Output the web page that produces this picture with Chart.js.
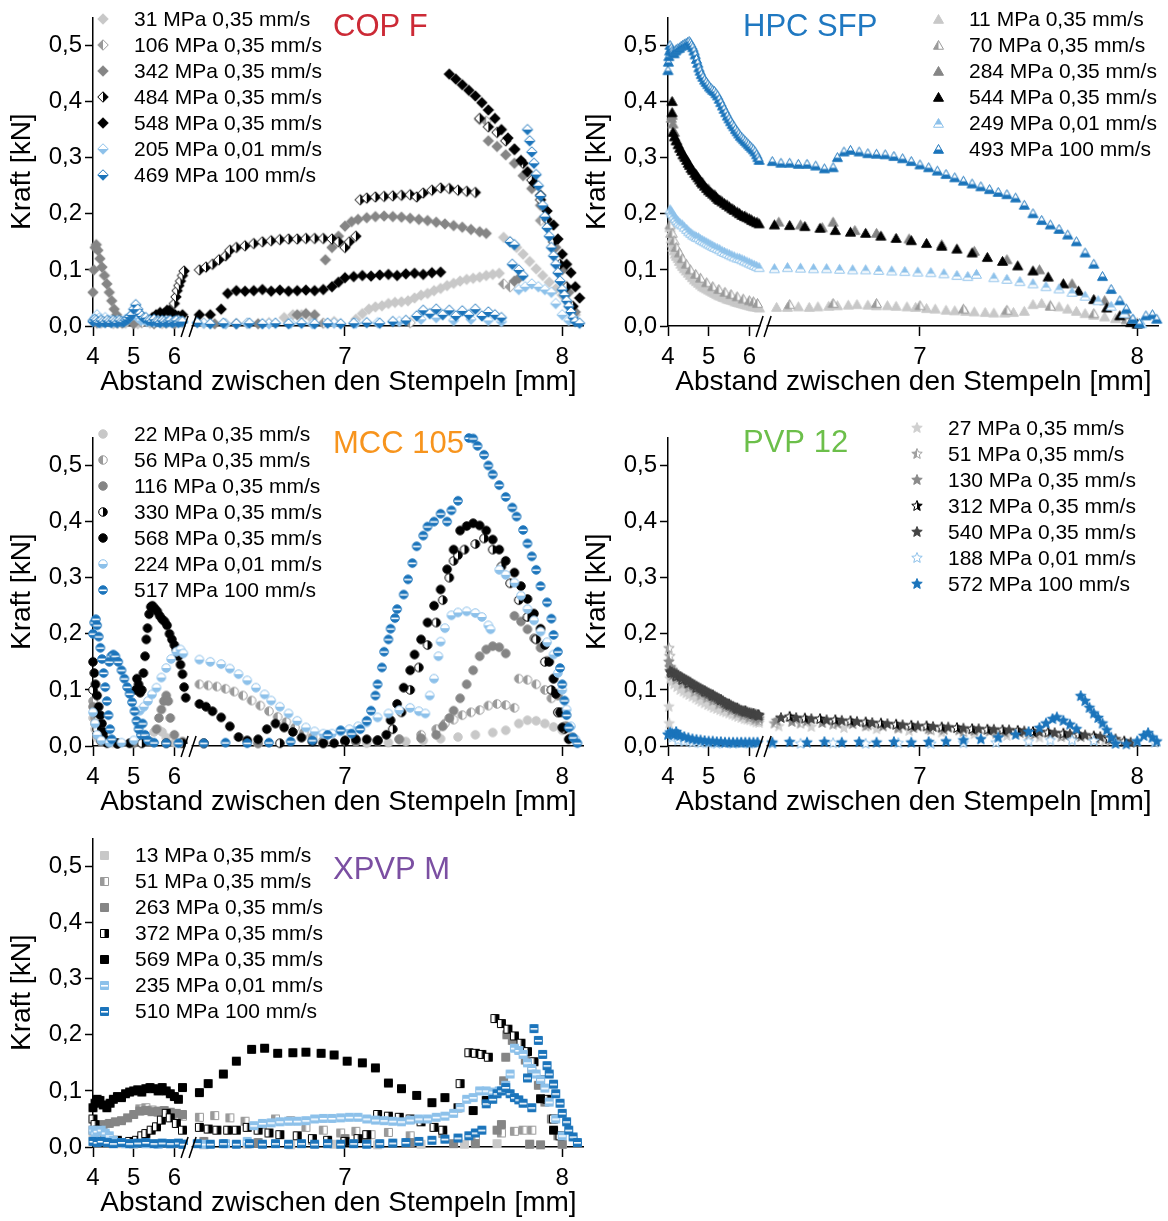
<!DOCTYPE html>
<html>
<head>
<meta charset="utf-8">
<script src="https://cdn.jsdelivr.net/npm/chart.js@4.4.1/dist/chart.umd.min.js"></script>
<style>
  body { margin: 0; background: #fff; }
  #wrap { position: relative; width: 1168px; height: 1221px; background: #fff; }
  canvas { position: absolute; }
</style>
</head>
<body>
<div id="wrap">
  <canvas id="copF" width="590" height="400" style="left:0;top:0"></canvas>
  <canvas id="hpc" width="590" height="400" style="left:575px;top:0"></canvas>
  <canvas id="mcc" width="590" height="400" style="left:0;top:420px"></canvas>
  <canvas id="pvp" width="590" height="400" style="left:575px;top:420px"></canvas>
  <canvas id="xpvp" width="590" height="400" style="left:0;top:821px"></canvas>
</div>
<script>
const FONT = "'Liberation Sans', Arial, sans-serif";

// axis setup: broken x axis (4..6.35 | 6.28..8.1)
const yTicks = [0, 0.1, 0.2, 0.3, 0.4, 0.5];
const xTicksLeft = [4, 5, 6];
const xTicksRight = [7, 8];
const xLeft = [4, 6.35];
const xRight = [6.28, 8.1];
const xSplit = 6.3;
const xTitle = 'Abstand zwischen den Stempeln [mm]';
const yTitle = 'Kraft [kN]';

// ---------- COP F ----------
const copF31 = [[4.0,0.01],[4.2,0.005],[4.5,0.004],[4.8,0.005],[5.1,0.004],[5.4,0.005],[5.7,0.004],[6.0,0.005],[6.2,0.005],
  [6.35,0.005],[6.45,0.004],[6.55,0.005],[6.65,0.006],[6.72,0.015],[6.76,0.02],[6.8,0.02],[6.85,0.012],[6.95,0.008],[7.05,0.012],
  [7.08,0.022],[7.11,0.03],[7.14,0.034],[7.17,0.036],[7.2,0.04],[7.23,0.042],[7.26,0.043],[7.29,0.045],[7.32,0.05],[7.35,0.055],
  [7.38,0.058],[7.41,0.063],[7.44,0.067],[7.47,0.072],[7.5,0.076],[7.53,0.08],[7.56,0.083],[7.59,0.085],[7.62,0.087],[7.65,0.09],
  [7.68,0.092],[7.71,0.094],[7.73,0.158],[7.76,0.15],[7.79,0.14],[7.82,0.128],[7.85,0.115],[7.88,0.102],[7.91,0.09],[7.94,0.078],
  [7.97,0.066],[8.0,0.055],[8.03,0.04],[8.06,0.02]];
const copF106 = [[4.1,0.005],[4.6,0.005],[5.2,0.006],[5.8,0.005],[6.5,0.004],[6.9,0.005],[7.3,0.006],
  [7.62,0.368],[7.65,0.365],[7.73,0.075],[7.76,0.07],[7.9,0.188]];
const copF342 = [[4.0,0.06],[4.02,0.1],[4.05,0.14],[4.08,0.145],[4.12,0.135],[4.17,0.12],[4.22,0.105],[4.28,0.09],[4.34,0.075],
  [4.4,0.06],[4.46,0.045],[4.52,0.03],[4.58,0.02],[4.65,0.01],[4.72,0.005],[5.0,0.004],[5.5,0.004],[6.0,0.004],
  [6.4,0.004],[6.6,0.004],[6.78,0.02],[6.82,0.022],[6.86,0.02],[6.91,0.118],[6.94,0.14],[6.97,0.16],[7.0,0.178],[7.03,0.186],
  [7.06,0.19],[7.1,0.193],[7.14,0.195],[7.18,0.196],[7.22,0.195],[7.26,0.194],[7.3,0.192],[7.34,0.19],[7.38,0.188],[7.42,0.185],
  [7.46,0.182],[7.5,0.179],[7.54,0.176],[7.58,0.172],[7.62,0.168],[7.65,0.165],[7.66,0.33],[7.7,0.32],[7.74,0.305],[7.78,0.29],
  [7.82,0.268],[7.86,0.245],[7.9,0.215],[7.94,0.18],[7.97,0.14],[8.0,0.1],[8.03,0.06],[8.06,0.025],[7.78,0.08],[7.8,0.085]];
const copF484 = [[6.0,0.04],[6.04,0.052],[6.07,0.063],[6.11,0.072],[6.15,0.08],[6.2,0.09],[6.24,0.098],
  [6.33,0.1],[6.36,0.105],[6.39,0.11],[6.42,0.118],[6.45,0.125],[6.47,0.135],[6.5,0.14],[6.54,0.143],[6.58,0.147],[6.62,0.15],
  [6.66,0.152],[6.7,0.154],[6.74,0.155],[6.78,0.155],[6.82,0.156],[6.86,0.156],[6.9,0.156],[6.94,0.155],[6.97,0.15],[7.0,0.14],
  [7.02,0.15],[7.05,0.16],[7.07,0.225],[7.1,0.228],[7.14,0.23],[7.18,0.231],[7.22,0.232],[7.26,0.233],[7.3,0.234],[7.33,0.23],
  [7.36,0.237],[7.4,0.242],[7.44,0.246],[7.48,0.245],[7.52,0.242],[7.56,0.24],[7.6,0.238],
  [7.62,0.37],[7.66,0.355],[7.7,0.345],[7.74,0.33],[7.78,0.315],[7.82,0.29],[7.86,0.26],[7.9,0.225],[7.93,0.19],[7.96,0.15],
  [7.99,0.11],[8.02,0.07],[8.05,0.035]];
const copF548 = [[5.46,0.015],[5.55,0.02],[5.65,0.024],[5.75,0.022],[5.82,0.028],[5.88,0.028],[5.95,0.022],[6.02,0.02],[6.1,0.018],[6.2,0.02],
  [6.33,0.02],[6.38,0.02],[6.43,0.03],[6.46,0.058],[6.5,0.063],[6.54,0.062],[6.58,0.063],[6.62,0.065],[6.66,0.062],[6.7,0.064],
  [6.74,0.062],[6.78,0.063],[6.82,0.064],[6.86,0.063],[6.9,0.065],[6.94,0.07],[6.97,0.078],[7.0,0.086],[7.04,0.088],[7.08,0.09],
  [7.12,0.089],[7.16,0.091],[7.2,0.092],[7.24,0.09],[7.28,0.093],[7.32,0.094],[7.36,0.092],[7.4,0.095],[7.44,0.096],
  [7.48,0.449],[7.51,0.44],[7.54,0.43],[7.57,0.42],[7.6,0.41],[7.63,0.398],[7.66,0.385],[7.69,0.37],[7.72,0.35],[7.75,0.335],
  [7.78,0.315],[7.81,0.295],[7.84,0.275],[7.87,0.255],[7.9,0.233],[7.93,0.205],[7.96,0.18],[7.98,0.155],[8.0,0.128],[8.02,0.11],
  [8.04,0.095],[8.06,0.07],[8.08,0.05]];
const copF205 = [[4.0,0.01],[4.05,0.015],[4.1,0.02],[4.15,0.014],[4.2,0.012],[4.25,0.008],[4.3,0.015],[4.38,0.01],[4.45,0.01],[4.52,0.007],
  [4.6,0.01],[4.7,0.008],[4.8,0.012],[4.9,0.015],[5.0,0.02],[5.1,0.015],[5.18,0.01],[5.25,0.012],[5.32,0.008],[5.4,0.01],[5.5,0.007],
  [5.6,0.01],[5.7,0.008],[5.8,0.01],[5.9,0.007],[6.0,0.008],[6.1,0.01],[6.2,0.008],
  [6.35,0.005],[6.45,0.004],[6.55,0.005],[6.65,0.004],[6.75,0.005],[6.85,0.004],[6.95,0.005],[7.05,0.005],[7.15,0.006],[7.25,0.008],
  [7.35,0.012],[7.42,0.015],[7.5,0.01],[7.58,0.012],[7.66,0.01],[7.72,0.008],[7.8,0.065],[7.83,0.07],[7.86,0.075],[7.89,0.07],
  [7.92,0.065],[7.95,0.06],[7.97,0.04],[8.0,0.02],[8.03,0.01]];
const copF469 = [[4.0,0.008],[4.04,0.012],[4.08,0.01],[4.12,0.007],[4.16,0.006],[4.2,0.01],[4.25,0.008],[4.3,0.006],[4.35,0.01],[4.4,0.008],
  [4.45,0.006],[4.5,0.01],[4.55,0.008],[4.6,0.006],[4.65,0.01],[4.7,0.008],[4.75,0.007],[4.8,0.01],
  [4.85,0.012],[4.9,0.016],[4.95,0.02],[5.0,0.03],[5.05,0.038],[5.1,0.03],[5.15,0.022],[5.2,0.018],[5.25,0.014],[5.3,0.015],[5.35,0.01],
  [5.4,0.01],[5.45,0.008],[5.5,0.012],[5.55,0.008],[5.6,0.008],[5.65,0.006],[5.7,0.01],[5.75,0.008],[5.8,0.006],[5.85,0.008],
  [5.9,0.01],[5.95,0.006],[6.0,0.008],[6.05,0.01],[6.1,0.006],[6.15,0.008],[6.2,0.008],
  [6.32,0.006],[6.38,0.004],[6.44,0.005],[6.5,0.004],[6.56,0.005],[6.62,0.004],[6.68,0.005],[6.74,0.004],[6.8,0.005],[6.86,0.004],
  [6.92,0.005],[6.98,0.004],[7.04,0.005],[7.1,0.006],[7.16,0.005],[7.22,0.008],[7.28,0.01],[7.33,0.018],[7.36,0.028],[7.39,0.022],
  [7.42,0.03],[7.45,0.02],[7.48,0.028],[7.51,0.018],[7.54,0.027],[7.57,0.02],[7.6,0.03],[7.63,0.018],[7.66,0.025],[7.69,0.02],
  [7.72,0.015],[7.76,0.15],[7.78,0.145],[7.77,0.11],[7.8,0.1],[7.82,0.09],[7.84,0.35],[7.85,0.33],[7.86,0.31],[7.87,0.29],
  [7.88,0.27],[7.89,0.25],[7.9,0.232],[7.91,0.215],[7.92,0.195],[7.93,0.175],[7.94,0.16],[7.95,0.14],[7.96,0.125],[7.97,0.11],
  [7.98,0.095],[7.99,0.08],[8.0,0.065],[8.01,0.055],[8.02,0.045],[8.03,0.035],[8.04,0.025],[8.05,0.015],[8.06,0.008],[8.08,0.005]];

// ---------- HPC SFP ----------
const hpc11 = [[4.05,0.175],[4.06,0.165],[4.08,0.155],[4.1,0.148],[4.12,0.14],[4.15,0.134],[4.18,0.128],[4.21,0.124],[4.25,0.12],
  [4.28,0.115],[4.32,0.11],[4.36,0.106],[4.4,0.102],[4.45,0.098],[4.5,0.094],[4.55,0.09],[4.6,0.086],[4.65,0.082],
  [4.7,0.079],[4.75,0.076],[4.8,0.073],[4.85,0.07],[4.9,0.068],[4.95,0.066],[5.0,0.064],[5.05,0.062],[5.1,0.06],[5.15,0.058],
  [5.2,0.056],[5.25,0.054],[5.3,0.053],[5.35,0.051],[5.4,0.05],[5.45,0.048],[5.5,0.047],[5.55,0.046],[5.6,0.045],[5.65,0.043],
  [5.7,0.042],[5.75,0.041],[5.8,0.04],[5.85,0.039],[5.9,0.038],[5.95,0.037],[6.0,0.036],[6.05,0.035],[6.1,0.034],[6.15,0.034],
  [6.2,0.033],[6.25,0.032],
  [6.34,0.033],[6.39,0.033],[6.44,0.034],[6.49,0.033],[6.53,0.034],[6.58,0.035],[6.62,0.036],[6.67,0.037],[6.71,0.038],[6.76,0.037],
  [6.8,0.036],[6.85,0.036],[6.89,0.035],[6.94,0.034],[6.98,0.033],[7.03,0.031],[7.07,0.03],[7.12,0.028],[7.16,0.027],[7.21,0.026],
  [7.25,0.025],[7.3,0.024],[7.34,0.023],[7.39,0.023],[7.43,0.024],[7.48,0.026],[7.52,0.038],[7.56,0.04],[7.6,0.037],[7.64,0.034],
  [7.68,0.03],[7.72,0.026],[7.76,0.022],[7.8,0.019],[7.85,0.016],[7.9,0.013],[7.95,0.01],[8.0,0.006]];
const hpc70 = [[4.05,0.18],[4.1,0.165],[4.15,0.152],[4.2,0.14],[4.28,0.13],[4.35,0.12],[4.45,0.11],[4.55,0.1],[4.68,0.092],[4.8,0.085],
  [4.95,0.077],[5.1,0.07],[5.25,0.065],[5.4,0.06],[5.55,0.056],[5.7,0.052],[5.85,0.048],[6.0,0.045],[6.1,0.043],[6.2,0.04],
  [6.4,0.038],[6.6,0.04],[6.8,0.04],[7.0,0.036],[7.2,0.03],[7.4,0.028],[7.6,0.035],[7.8,0.022],[7.95,0.012]];
const hpc284 = [[4.08,0.37],[4.1,0.375],[4.12,0.36],[4.16,0.345],[4.22,0.33],[4.3,0.316],[4.4,0.302],[4.5,0.29],[4.6,0.279],
  [4.7,0.27],[4.85,0.256],[5.0,0.244],[5.15,0.234],[5.3,0.224],[5.45,0.216],[5.6,0.208],[5.75,0.201],[5.9,0.196],[6.05,0.19],[6.2,0.185],
  [6.35,0.185],[6.45,0.18],[6.55,0.175],[6.6,0.185],[6.7,0.17],[6.8,0.165],[6.95,0.155],[7.1,0.145],[7.25,0.133],[7.4,0.118],
  [7.55,0.1],[7.7,0.075],[7.85,0.045],[7.95,0.02]];
const hpc544 = [[4.1,0.4],[4.1,0.38],[4.12,0.345],[4.16,0.337],[4.2,0.33],[4.25,0.323],[4.29,0.317],[4.33,0.311],[4.37,0.305],[4.42,0.3],
  [4.46,0.295],[4.5,0.29],[4.53,0.286],[4.57,0.281],[4.61,0.277],[4.66,0.272],[4.7,0.268],[4.74,0.264],[4.78,0.26],[4.82,0.256],
  [4.85,0.253],[4.9,0.249],[4.95,0.245],[5.0,0.241],[5.05,0.238],[5.1,0.235],[5.15,0.232],[5.19,0.229],[5.23,0.226],[5.27,0.224],
  [5.33,0.221],[5.39,0.218],[5.45,0.215],[5.51,0.212],[5.57,0.209],[5.63,0.206],[5.7,0.203],[5.76,0.2],[5.82,0.197],[5.88,0.195],
  [5.94,0.193],[6.0,0.191],[6.06,0.188],[6.12,0.186],[6.18,0.184],[6.24,0.182],
  [6.33,0.18],[6.4,0.179],[6.47,0.177],[6.54,0.174],[6.61,0.17],[6.68,0.167],[6.75,0.165],[6.82,0.16],[6.89,0.156],[6.96,0.152],
  [7.03,0.147],[7.1,0.142],[7.17,0.137],[7.24,0.13],[7.31,0.122],[7.38,0.115],[7.45,0.107],[7.52,0.098],[7.59,0.087],[7.66,0.075],
  [7.73,0.062],[7.8,0.047],[7.86,0.032],[7.92,0.018],[7.97,0.006],[8.0,0.003]];
const hpc249 = [[4.05,0.207],[4.08,0.203],[4.1,0.2],[4.14,0.196],[4.18,0.192],[4.22,0.188],[4.26,0.185],[4.3,0.182],[4.35,0.18],
  [4.4,0.176],[4.46,0.172],[4.51,0.168],[4.56,0.165],[4.61,0.162],[4.66,0.16],[4.7,0.158],[4.75,0.157],[4.8,0.154],
  [4.85,0.152],[4.9,0.15],[4.95,0.148],[5.0,0.146],[5.05,0.144],[5.1,0.142],[5.15,0.14],[5.21,0.138],[5.27,0.136],[5.33,0.133],
  [5.39,0.131],[5.45,0.129],[5.51,0.127],[5.57,0.125],[5.63,0.123],[5.7,0.121],[5.76,0.12],[5.82,0.118],[5.88,0.116],[5.94,0.114],
  [6.0,0.112],[6.06,0.11],[6.12,0.108],[6.18,0.106],[6.24,0.104],
  [6.33,0.102],[6.39,0.104],[6.45,0.103],[6.51,0.102],[6.57,0.102],[6.63,0.101],[6.69,0.1],[6.75,0.1],[6.81,0.099],[6.87,0.098],
  [6.93,0.097],[6.99,0.096],[7.05,0.095],[7.11,0.093],[7.17,0.09],[7.22,0.088],[7.26,0.092],[7.34,0.086],[7.4,0.083],[7.46,0.079],
  [7.52,0.075],[7.58,0.07],[7.64,0.066],[7.7,0.06],[7.76,0.053],[7.82,0.045],[7.88,0.035],[7.94,0.022],[7.98,0.012],[8.02,0.004]];
const hpc493 = [[4.0,0.455],[4.01,0.47],[4.02,0.48],[4.04,0.49],[4.05,0.5],[4.08,0.495],[4.1,0.49],[4.12,0.487],[4.15,0.485],[4.18,0.49],
  [4.2,0.492],[4.24,0.494],[4.28,0.495],[4.32,0.498],[4.36,0.5],[4.4,0.502],[4.44,0.503],[4.48,0.505],
  [4.52,0.507],[4.55,0.504],[4.58,0.5],[4.61,0.496],[4.64,0.49],[4.67,0.483],[4.7,0.475],[4.73,0.468],[4.76,0.46],[4.79,0.454],
  [4.82,0.448],[4.86,0.443],[4.9,0.438],[4.94,0.434],[4.98,0.43],[5.02,0.426],[5.06,0.423],[5.1,0.42],[5.14,0.418],[5.18,0.414],
  [5.22,0.41],[5.26,0.404],[5.3,0.398],[5.34,0.392],[5.38,0.386],[5.42,0.38],[5.46,0.374],[5.5,0.369],[5.54,0.364],[5.58,0.359],
  [5.62,0.355],[5.66,0.35],[5.7,0.346],[5.74,0.342],[5.78,0.338],[5.82,0.335],[5.86,0.332],[5.9,0.329],[5.94,0.326],[5.98,0.323],
  [6.02,0.32],[6.06,0.317],[6.1,0.314],[6.14,0.31],[6.18,0.305],[6.21,0.3],[6.24,0.295],
  [6.32,0.293],[6.36,0.29],[6.4,0.29],[6.44,0.288],[6.48,0.288],[6.52,0.285],[6.56,0.28],[6.6,0.282],[6.62,0.3],[6.65,0.31],
  [6.68,0.313],[6.72,0.31],[6.76,0.307],[6.8,0.306],[6.84,0.305],[6.88,0.302],[6.92,0.298],[6.96,0.293],[7.0,0.287],[7.04,0.282],
  [7.08,0.276],[7.12,0.27],[7.16,0.264],[7.2,0.258],[7.24,0.253],[7.28,0.248],[7.32,0.243],[7.36,0.238],[7.4,0.234],[7.44,0.228],
  [7.48,0.215],[7.52,0.2],[7.56,0.188],[7.6,0.18],[7.64,0.172],[7.68,0.162],[7.72,0.15],[7.76,0.13],[7.8,0.11],[7.84,0.088],
  [7.88,0.065],[7.92,0.045],[7.95,0.03],[7.98,0.012],[8.01,0.004],[8.04,0.018],[8.07,0.02],[8.09,0.012]];

// ---------- MCC 105 ----------
const mcc22 = [[4.0,0.05],[4.05,0.03],[4.1,0.015],[4.2,0.008],[4.5,0.005],[4.9,0.005],[5.3,0.01],[5.5,0.025],[5.6,0.03],[5.7,0.025],
  [5.8,0.015],[6.0,0.006],[6.2,0.005],
  [6.35,0.004],[6.6,0.004],[6.9,0.004],[7.1,0.005],[7.2,0.006],[7.28,0.008],[7.36,0.01],[7.44,0.013],[7.52,0.016],[7.6,0.02],
  [7.68,0.024],[7.74,0.028],[7.8,0.04],[7.84,0.046],[7.88,0.045],[7.92,0.04],[7.96,0.034],[8.0,0.028],[8.04,0.015]];
const mcc56 = [[4.0,0.08],[4.05,0.05],[4.1,0.03],[4.2,0.01],[4.6,0.005],[5.2,0.005],[5.8,0.006],[6.2,0.006],
  [6.33,0.11],[6.37,0.108],[6.41,0.106],[6.45,0.102],[6.49,0.097],[6.53,0.09],[6.57,0.081],[6.61,0.072],[6.65,0.062],[6.69,0.052],
  [6.73,0.043],[6.77,0.033],[6.81,0.024],[6.85,0.016],[6.9,0.01],[7.05,0.008],[7.15,0.008],[7.25,0.012],[7.35,0.02],[7.42,0.03],
  [7.46,0.04],[7.5,0.047],[7.54,0.055],[7.58,0.06],[7.62,0.064],[7.66,0.072],[7.7,0.075],[7.74,0.073],[7.78,0.068],[7.8,0.12],
  [7.84,0.118],[7.88,0.11],[7.92,0.1],[7.95,0.085],[7.98,0.06],[8.01,0.035],[8.04,0.015]];
const mcc116 = [[4.0,0.07],[4.05,0.04],[4.1,0.02],[4.2,0.008],[4.6,0.005],[5.0,0.005],[5.4,0.008],[5.56,0.03],[5.62,0.05],
  [5.68,0.065],[5.74,0.08],[5.8,0.09],[5.85,0.08],[5.9,0.05],[6.0,0.02],[6.2,0.008],
  [6.35,0.005],[6.6,0.005],[6.9,0.005],[7.05,0.008],[7.15,0.01],[7.25,0.012],[7.35,0.014],[7.42,0.02],[7.45,0.035],[7.48,0.05],
  [7.5,0.063],[7.53,0.085],[7.56,0.11],[7.59,0.135],[7.62,0.16],[7.65,0.172],[7.68,0.178],[7.71,0.176],[7.74,0.165],[7.78,0.232],
  [7.81,0.222],[7.84,0.208],[7.87,0.192],[7.9,0.175],[7.93,0.152],[7.96,0.12],[7.98,0.09],[8.0,0.06],[8.02,0.035],[8.05,0.015]];
const mcc330 = [[4.0,0.1],[4.05,0.06],[4.1,0.03],[4.2,0.01],[4.6,0.005],[5.2,0.005],[5.8,0.005],[6.2,0.005],
  [6.35,0.005],[6.7,0.005],[7.0,0.008],[7.15,0.01],[7.22,0.03],[7.26,0.06],[7.3,0.1],[7.34,0.14],[7.38,0.18],[7.42,0.22],[7.45,0.26],
  [7.48,0.3],[7.5,0.33],[7.52,0.34],[7.55,0.35],[7.6,0.36],[7.64,0.37],[7.68,0.35],[7.72,0.32],[7.76,0.29],[7.8,0.26],[7.84,0.23],
  [7.88,0.19],[7.92,0.15],[7.95,0.1],[7.98,0.06],[8.01,0.03]];
const mcc568 = [[4.0,0.15],[4.03,0.13],[4.06,0.11],[4.1,0.09],[4.14,0.07],[4.18,0.055],[4.22,0.04],[4.26,0.025],[4.3,0.012],[4.35,0.005],
  [4.6,0.004],[4.9,0.005],[5.05,0.1],[5.08,0.12],[5.12,0.11],[5.16,0.095],[5.2,0.1],[5.24,0.13],[5.28,0.16],[5.31,0.19],[5.34,0.21],
  [5.38,0.235],[5.42,0.248],[5.46,0.25],[5.52,0.245],[5.58,0.24],[5.64,0.232],[5.7,0.226],[5.76,0.222],[5.82,0.215],[5.88,0.2],
  [5.94,0.19],[6.0,0.18],[6.05,0.172],[6.1,0.16],[6.15,0.145],[6.2,0.128],[6.24,0.105],[6.28,0.086],
  [6.33,0.075],[6.36,0.07],[6.39,0.062],[6.43,0.051],[6.47,0.035],[6.51,0.016],[6.55,0.01],[6.6,0.012],[6.64,0.03],[6.68,0.04],
  [6.72,0.033],[6.76,0.025],[6.8,0.015],[6.85,0.008],[6.9,0.005],[6.95,0.005],[7.0,0.01],[7.05,0.012],[7.1,0.012],[7.15,0.01],
  [7.19,0.02],[7.21,0.046],[7.24,0.075],[7.27,0.104],[7.3,0.135],[7.32,0.163],[7.35,0.19],[7.38,0.22],[7.41,0.25],[7.44,0.279],
  [7.47,0.315],[7.5,0.35],[7.53,0.384],[7.56,0.392],[7.59,0.397],[7.62,0.393],[7.65,0.384],[7.68,0.368],[7.71,0.35],[7.74,0.33],
  [7.78,0.309],[7.81,0.285],[7.84,0.262],[7.87,0.236],[7.9,0.209],[7.92,0.18],[7.94,0.15],[7.96,0.12],[7.97,0.093],[7.99,0.06],
  [8.0,0.033],[8.03,0.012]];
const mcc224 = [[4.0,0.06],[4.05,0.04],[4.1,0.02],[4.2,0.01],[4.4,0.006],[4.7,0.006],[5.0,0.01],[5.1,0.04],[5.15,0.063],[5.25,0.07],
  [5.35,0.08],[5.45,0.092],[5.56,0.104],[5.68,0.122],[5.8,0.139],[5.92,0.155],[6.05,0.168],[6.15,0.172],[6.22,0.165],
  [6.33,0.154],[6.38,0.15],[6.43,0.146],[6.47,0.138],[6.51,0.128],[6.55,0.117],[6.59,0.104],[6.63,0.092],[6.66,0.081],[6.7,0.07],
  [6.74,0.058],[6.78,0.045],[6.82,0.033],[6.86,0.026],[6.9,0.022],[6.94,0.022],[6.98,0.026],[7.02,0.03],[7.06,0.035],[7.1,0.042],
  [7.15,0.051],[7.2,0.058],[7.25,0.064],[7.3,0.068],[7.34,0.062],[7.37,0.058],[7.39,0.09],[7.41,0.12],[7.43,0.16],[7.44,0.186],
  [7.46,0.21],[7.49,0.233],[7.52,0.238],[7.56,0.24],[7.6,0.237],[7.63,0.23],[7.66,0.215],[7.67,0.208],[7.71,0.314],[7.74,0.305],
  [7.78,0.291],[7.81,0.268],[7.84,0.244],[7.87,0.224],[7.9,0.204],[7.93,0.185],[7.96,0.163],[7.98,0.13],[8.0,0.1],[8.02,0.065],
  [8.04,0.035],[8.06,0.012]];
const mcc517 = [[4.0,0.2],[4.03,0.22],[4.07,0.226],[4.1,0.215],[4.14,0.195],[4.18,0.175],[4.22,0.155],[4.26,0.13],[4.3,0.105],
  [4.34,0.08],[4.38,0.055],[4.42,0.03],[4.46,0.012],[4.4,0.15],[4.45,0.16],[4.5,0.163],[4.55,0.16],[4.62,0.15],[4.7,0.135],
  [4.77,0.12],[4.84,0.105],[4.9,0.093],[4.96,0.078],[5.02,0.062],[5.07,0.045],[5.12,0.03],[5.18,0.02],[5.22,0.04],[5.28,0.02],
  [5.35,0.01],[5.5,0.006],[5.8,0.005],[6.1,0.005],
  [6.35,0.005],[6.45,0.006],[6.55,0.005],[6.65,0.006],[6.75,0.008],[6.85,0.01],[6.92,0.02],[6.98,0.028],[7.03,0.022],[7.07,0.03],
  [7.1,0.045],[7.12,0.063],[7.14,0.09],[7.15,0.11],[7.17,0.14],[7.18,0.168],[7.2,0.19],[7.21,0.209],[7.23,0.228],[7.24,0.244],
  [7.27,0.27],[7.29,0.297],[7.31,0.326],[7.33,0.356],[7.36,0.375],[7.38,0.391],[7.41,0.4],[7.44,0.414],[7.47,0.4],[7.49,0.42],
  [7.52,0.437],[7.57,0.549],[7.59,0.548],[7.61,0.535],[7.64,0.519],[7.66,0.5],[7.68,0.484],[7.71,0.465],[7.74,0.444],[7.77,0.425],
  [7.79,0.409],[7.82,0.385],[7.84,0.361],[7.86,0.338],[7.88,0.314],[7.9,0.285],[7.93,0.256],[7.95,0.227],[7.96,0.198],[7.98,0.168],
  [7.99,0.139],[8.0,0.11],[8.01,0.081],[8.02,0.055],[8.03,0.033],[8.05,0.015],[8.07,0.005]];

// ---------- PVP 12 ----------
const pvp27 = [[4.02,0.07],[4.03,0.04],[4.05,0.12],[4.1,0.115],[4.15,0.11],[4.22,0.105],[4.3,0.1],[4.38,0.097],[4.45,0.094],[4.52,0.091],
  [4.6,0.088],[4.68,0.085],[4.75,0.082],[4.82,0.079],[4.9,0.076],[4.98,0.073],[5.05,0.071],[5.12,0.068],[5.2,0.066],[5.28,0.064],
  [5.35,0.062],[5.42,0.06],[5.5,0.058],[5.58,0.056],[5.65,0.054],[5.72,0.052],[5.8,0.05],[5.88,0.048],[5.95,0.047],[6.02,0.046],
  [6.1,0.044],[6.17,0.042],[6.24,0.041],
  [6.35,0.035],[6.5,0.034],[6.65,0.032],[6.8,0.03],[6.95,0.027],[7.1,0.024],[7.25,0.021],[7.4,0.018],[7.55,0.015],[7.7,0.012],[7.85,0.009]];
const pvp51 = [[4.02,0.174],[4.04,0.16],[4.05,0.14],[4.1,0.125],[4.2,0.118],[4.35,0.11],[4.5,0.103],[4.65,0.096],[4.8,0.09],
  [4.95,0.085],[5.1,0.08],[5.25,0.074],[5.4,0.068],[5.55,0.063],[5.7,0.058],[5.85,0.054],[6.0,0.05],[6.15,0.047],[6.24,0.045],
  [6.33,0.04],[6.45,0.04],[6.6,0.038],[6.75,0.035],[6.9,0.031],[7.05,0.028],[7.2,0.025],[7.35,0.022],[7.5,0.019],[7.65,0.016],[7.8,0.012]];
const pvp130 = [[4.02,0.15],[4.06,0.14],[4.1,0.136],[4.15,0.132],[4.22,0.128],[4.3,0.123],[4.38,0.119],[4.45,0.115],[4.52,0.111],
  [4.6,0.107],[4.68,0.103],[4.75,0.1],[4.82,0.097],[4.9,0.094],[4.98,0.091],[5.05,0.088],[5.12,0.085],[5.2,0.082],[5.28,0.079],
  [5.35,0.076],[5.42,0.073],[5.5,0.07],[5.58,0.067],[5.65,0.065],[5.72,0.062],[5.8,0.06],[5.88,0.058],[5.95,0.056],[6.02,0.054],
  [6.1,0.052],[6.17,0.05],[6.24,0.049],
  [6.34,0.045],[6.41,0.043],[6.48,0.044],[6.55,0.041],[6.62,0.04],[6.69,0.039],[6.76,0.037],[6.83,0.035],[6.9,0.033],[6.97,0.032],
  [7.04,0.03],[7.11,0.029],[7.18,0.028],[7.25,0.027],[7.32,0.026],[7.39,0.024],[7.46,0.023],[7.53,0.021],[7.6,0.02],[7.67,0.018],
  [7.74,0.016],[7.81,0.013],[7.88,0.01]];
const pvp312 = [[4.08,0.13],[4.2,0.124],[4.35,0.118],[4.5,0.112],[4.7,0.104],[4.9,0.097],[5.1,0.09],[5.3,0.082],[5.5,0.074],
  [5.7,0.067],[5.9,0.062],[6.1,0.057],[6.22,0.055],
  [6.4,0.052],[6.47,0.049],[6.54,0.048],[6.61,0.046],[6.68,0.044],[6.75,0.042],[6.82,0.04],[6.89,0.038],[6.96,0.036],[7.03,0.035],
  [7.1,0.033],[7.17,0.032],[7.24,0.03],[7.31,0.029],[7.38,0.028],[7.45,0.027],[7.52,0.025],[7.59,0.024],[7.66,0.022],[7.73,0.02],
  [7.8,0.017],[7.87,0.013],[7.94,0.008]];
const pvp540 = [[4.05,0.133],[4.1,0.131],[4.15,0.129],[4.2,0.127],[4.25,0.125],[4.3,0.123],[4.35,0.121],[4.4,0.119],[4.45,0.117],
  [4.5,0.115],[4.55,0.113],[4.6,0.11],[4.65,0.108],[4.7,0.106],[4.75,0.104],[4.8,0.102],[4.85,0.1],[4.9,0.098],
  [4.95,0.096],[5.0,0.094],[5.05,0.092],[5.1,0.09],[5.15,0.088],[5.2,0.086],[5.25,0.084],[5.3,0.082],[5.35,0.08],[5.4,0.077],
  [5.45,0.075],[5.5,0.073],[5.55,0.072],[5.6,0.07],[5.65,0.068],[5.7,0.066],[5.75,0.065],[5.8,0.063],[5.85,0.062],[5.9,0.061],
  [5.95,0.06],[6.0,0.059],[6.05,0.058],[6.1,0.057],[6.15,0.056],[6.2,0.055],[6.24,0.054],
  [6.36,0.05],[6.43,0.05],[6.5,0.048],[6.57,0.046],[6.64,0.045],[6.71,0.043],[6.78,0.041],[6.85,0.039],[6.92,0.037],[6.99,0.035],
  [7.06,0.034],[7.13,0.033],[7.2,0.031],[7.27,0.03],[7.34,0.029],[7.41,0.028],[7.48,0.026],[7.55,0.025],[7.62,0.023],[7.69,0.021],
  [7.76,0.019],[7.83,0.016],[7.9,0.012],[7.97,0.006]];
const pvp188 = [[4.0,0.02],[4.1,0.015],[4.25,0.01],[4.4,0.008],[4.6,0.006],[4.8,0.005],[5.0,0.005],[5.2,0.004],[5.4,0.005],[5.6,0.004],
  [5.8,0.005],[6.0,0.004],[6.2,0.005],
  [6.32,0.004],[6.45,0.004],[6.6,0.005],[6.75,0.004],[6.9,0.005],[7.05,0.004],[7.2,0.005],[7.35,0.006],[7.5,0.008],[7.6,0.01],
  [7.7,0.01],[7.8,0.009],[7.9,0.006],[8.0,0.008],[8.08,0.006]];
const pvp572 = [[4.0,0.02],[4.05,0.024],[4.1,0.022],[4.15,0.02],[4.2,0.025],[4.25,0.02],[4.3,0.018],[4.4,0.016],[4.5,0.014],[4.6,0.012],
  [4.7,0.011],[4.8,0.01],[4.9,0.009],[5.0,0.008],[5.1,0.008],[5.2,0.007],[5.3,0.007],[5.4,0.006],[5.5,0.006],[5.6,0.006],[5.7,0.006],
  [5.8,0.006],[5.9,0.006],[6.0,0.006],[6.1,0.006],[6.2,0.006],
  [6.32,0.006],[6.4,0.007],[6.48,0.006],[6.56,0.007],[6.64,0.006],[6.72,0.007],[6.8,0.006],[6.88,0.007],[6.96,0.006],[7.04,0.007],
  [7.12,0.008],[7.2,0.01],[7.28,0.012],[7.36,0.015],[7.44,0.02],[7.5,0.025],[7.55,0.032],[7.58,0.04],[7.61,0.048],[7.63,0.051],
  [7.66,0.045],[7.69,0.038],[7.72,0.03],[7.74,0.089],[7.76,0.08],[7.78,0.068],[7.8,0.058],[7.82,0.05],[7.84,0.04],[7.86,0.028],
  [7.88,0.015],[7.9,0.004],[7.95,0.003],[8.0,0.008],[8.03,0.018],[8.05,0.023],[8.07,0.015],[8.09,0.008]];

// ---------- XPVP M ----------
const xp13 = [[4.0,0.02],[4.1,0.015],[4.2,0.01],[4.4,0.008],[4.7,0.006],[5.0,0.005],[5.3,0.006],[5.6,0.005],[5.9,0.006],[6.2,0.005],
  [6.35,0.004],[6.55,0.005],[6.75,0.004],[6.95,0.005],[7.15,0.004],[7.35,0.005],[7.55,0.005],[7.7,0.006],[7.85,0.005],[8.0,0.005]];
const xp51 = [[5.15,0.068],[5.3,0.07],[5.45,0.066],[5.6,0.062],[5.75,0.06],[5.9,0.058],[6.05,0.057],[6.2,0.055],
  [6.33,0.053],[6.4,0.056],[6.47,0.052],[6.54,0.046],[6.62,0.04],[6.68,0.05],[6.75,0.047],[6.82,0.035],[6.9,0.03],[6.98,0.025],
  [7.05,0.028],[7.12,0.022],[7.2,0.026],[7.3,0.02],[7.45,0.024],[7.6,0.02],[7.72,0.025],[7.78,0.028],[7.82,0.03],[7.86,0.03]];
const xp263 = [[4.0,0.03],[4.1,0.036],[4.25,0.04],[4.4,0.042],[4.55,0.045],[4.7,0.047],[4.85,0.052],[5.0,0.058],[5.15,0.064],
  [5.3,0.065],[5.45,0.063],[5.6,0.064],[5.75,0.065],[5.9,0.062],[6.05,0.06],[6.2,0.058],
  [6.35,0.01],[6.6,0.008],[6.85,0.012],[7.0,0.015],[7.1,0.01],[7.3,0.008],[7.5,0.006],[7.6,0.006],[7.7,0.03],[7.72,0.04],
  [7.73,0.118],[7.74,0.16],[7.745,0.2],[7.77,0.19],[7.8,0.175],[7.83,0.155],[7.86,0.135],[7.89,0.11],[7.92,0.08],[7.95,0.05],
  [7.98,0.02],[8.0,0.005],[7.85,0.005],[7.9,0.004]];
const xp372 = [[4.0,0.05],[4.05,0.04],[4.1,0.03],[4.3,0.02],[4.6,0.012],[4.9,0.01],[5.07,0.012],[5.2,0.02],[5.3,0.024],[5.43,0.03],
  [5.56,0.036],[5.68,0.048],[5.8,0.06],[5.9,0.052],[6.05,0.042],[6.2,0.03],
  [6.33,0.035],[6.37,0.032],[6.41,0.03],[6.46,0.03],[6.5,0.03],[6.55,0.035],[6.6,0.03],[6.65,0.025],[6.7,0.022],[6.78,0.02],
  [6.85,0.015],[6.92,0.012],[7.0,0.01],[7.06,0.015],[7.1,0.022],[7.15,0.058],[7.2,0.055],[7.25,0.053],[7.3,0.05],[7.35,0.045],
  [7.41,0.035],[7.45,0.03],[7.53,0.113],[7.57,0.168],[7.6,0.167],[7.63,0.165],[7.66,0.16],[7.69,0.229],[7.72,0.22],[7.75,0.21],
  [7.78,0.198],[7.81,0.185],[7.84,0.17],[7.87,0.152],[7.9,0.12],[7.93,0.085],[7.96,0.05],[7.99,0.02]];
const xp569 = [[4.0,0.07],[4.05,0.078],[4.1,0.085],[4.17,0.083],[4.25,0.075],[4.34,0.07],[4.42,0.078],[4.5,0.085],[4.6,0.09],
  [4.7,0.088],[4.8,0.095],[4.9,0.098],[5.0,0.1],[5.1,0.102],[5.2,0.098],[5.3,0.104],[5.4,0.106],[5.5,0.104],[5.6,0.1],[5.7,0.106],
  [5.8,0.1],[5.9,0.095],[6.0,0.09],[6.1,0.085],[6.2,0.106],
  [6.33,0.097],[6.37,0.113],[6.44,0.13],[6.5,0.153],[6.57,0.174],[6.63,0.176],[6.69,0.167],[6.76,0.168],[6.82,0.169],[6.89,0.167],
  [6.95,0.164],[7.01,0.153],[7.08,0.15],[7.14,0.141],[7.2,0.114],[7.26,0.104],[7.33,0.092],[7.4,0.079],[7.46,0.088],[7.52,0.07],
  [7.59,0.065],[7.65,0.083],[7.9,0.086],[7.96,0.03]];
const xp235 = [[4.0,0.03],[4.05,0.025],[4.1,0.028],[4.2,0.03],[4.3,0.025],[4.4,0.02],[4.5,0.012],[4.6,0.008],[4.8,0.006],[5.0,0.006],
  [5.3,0.006],[5.6,0.005],[5.9,0.006],[6.2,0.005],
  [6.35,0.005],[6.45,0.006],[6.55,0.01],[6.58,0.038],[6.62,0.042],[6.66,0.043],[6.7,0.045],[6.74,0.046],[6.78,0.046],[6.82,0.047],
  [6.86,0.05],[6.9,0.051],[6.94,0.051],[6.98,0.052],[7.02,0.053],[7.06,0.053],[7.1,0.05],[7.14,0.048],[7.18,0.047],[7.22,0.046],
  [7.26,0.045],[7.3,0.048],[7.34,0.05],[7.38,0.05],[7.42,0.053],[7.46,0.055],[7.5,0.06],[7.53,0.07],[7.56,0.085],[7.59,0.088],
  [7.62,0.1],[7.65,0.1],[7.68,0.098],[7.71,0.1],[7.74,0.11],[7.76,0.13],[7.78,0.176],[7.8,0.172],[7.82,0.165],[7.84,0.15],
  [7.86,0.14],[7.88,0.13],[7.9,0.12],[7.92,0.105],[7.94,0.08],[7.97,0.05],[8.0,0.02]];
const xp510 = [[4.0,0.01],[4.1,0.008],[4.2,0.01],[4.35,0.008],[4.5,0.006],[4.7,0.008],[4.9,0.006],[5.1,0.007],[5.3,0.008],[5.5,0.006],
  [5.7,0.007],[5.9,0.006],[6.1,0.007],[6.22,0.005],
  [6.32,0.006],[6.38,0.005],[6.44,0.006],[6.5,0.005],[6.56,0.006],[6.62,0.005],[6.68,0.006],[6.74,0.005],[6.8,0.006],[6.86,0.005],
  [6.92,0.006],[6.98,0.005],[7.04,0.006],[7.1,0.005],[7.16,0.006],[7.22,0.007],[7.28,0.008],[7.34,0.01],[7.4,0.012],[7.46,0.014],
  [7.52,0.016],[7.57,0.02],[7.6,0.025],[7.63,0.03],[7.65,0.077],[7.68,0.085],[7.7,0.095],[7.72,0.1],[7.74,0.106],[7.76,0.095],
  [7.78,0.088],[7.8,0.084],[7.82,0.078],[7.84,0.123],[7.86,0.07],[7.87,0.211],[7.89,0.19],[7.91,0.165],[7.93,0.145],[7.94,0.13],
  [7.96,0.112],[7.97,0.095],[7.99,0.078],[8.0,0.06],[8.02,0.045],[8.03,0.03],[8.05,0.018],[8.07,0.008]];

// marker images (half filled symbols like in the original)
const shapes = {
  diamond(g, m, r) { g.moveTo(m, m - r); g.lineTo(m + r, m); g.lineTo(m, m + r); g.lineTo(m - r, m); },
  square(g, m, r) { g.rect(m - r, m - r, 2 * r, 2 * r); },
  circle(g, m, r) { g.arc(m, m, r, 0, Math.PI * 2); },
  triangle(g, m, r) { g.moveTo(m, m - r); g.lineTo(m + r, m + r * 0.75); g.lineTo(m - r, m + r * 0.75); },
  star(g, m, r) {
    for (let k = 0; k < 10; k++) {
      const a = -Math.PI / 2 + k * Math.PI / 5, rr = k % 2 ? r * 0.45 : r;
      g.lineTo(m + rr * Math.cos(a), m + rr * Math.sin(a));
    }
  }
};

function marker(shape, size, color, mode) {
  const c = document.createElement('canvas');
  c.width = c.height = Math.ceil(size + 3);
  const g = c.getContext('2d'), m = c.width / 2, r = size / 2;
  const path = () => { g.beginPath(); shapes[shape](g, m, r); g.closePath(); };
  path();
  g.fillStyle = mode === 'full' ? color : '#fff';
  g.fill();
  if (mode !== 'full' && mode !== 'open') {
    g.save(); path(); g.clip();
    g.fillStyle = color;
    if (mode === 'left') g.fillRect(0, 0, m, c.height);
    if (mode === 'right') g.fillRect(m, 0, m, c.height);
    if (mode === 'bottom') g.fillRect(0, m, c.width, m);
    if (mode === 'top') g.fillRect(0, 0, c.width, m + 1);
    if (mode === 'stripe') {
      g.fillRect(0, 0, c.width, c.height);
      g.fillStyle = '#fff';
      g.fillRect(0, m - 0.5, c.width, 1.6);
    }
    g.restore();
  }
  path();
  g.strokeStyle = color;
  g.lineWidth = 1;
  g.stroke();
  return c;
}

const LG = '#c8c8c8', G1 = '#9a9a9a', G2 = '#858585', BK = '#000000', LB = '#8dc1ea', BL = '#1b74bb';

const panels = [
  { id: 'copF', title: 'COP F', color: '#cc2a36', titleX: 333, titleY: 27, legX: 103, legY: 19, shape: 'diamond', size: 10.5,
    series: [
      ['31 MPa 0,35 mm/s', LG, 'full', copF31],
      ['106 MPa 0,35 mm/s', G1, 'left', copF106],
      ['342 MPa 0,35 mm/s', G2, 'full', copF342],
      ['484 MPa 0,35 mm/s', BK, 'right', copF484],
      ['548 MPa 0,35 mm/s', BK, 'full', copF548],
      ['205 MPa 0,01 mm/s', LB, 'bottom', copF205],
      ['469 MPa 100 mm/s', BL, 'bottom', copF469]
    ] },
  { id: 'hpc', title: 'HPC SFP', color: '#1f78c1', titleX: 168, titleY: 27, legX: 363, legY: 19, shape: 'triangle', size: 10,
    series: [
      ['11 MPa 0,35 mm/s', LG, 'full', hpc11],
      ['70 MPa 0,35 mm/s', G1, 'left', hpc70],
      ['284 MPa 0,35 mm/s', G2, 'full', hpc284],
      ['544 MPa 0,35 mm/s', BK, 'full', hpc544],
      ['249 MPa 0,01 mm/s', LB, 'top', hpc249],
      ['493 MPa 100 mm/s', BL, 'bottom', hpc493]
    ] },
  { id: 'mcc', title: 'MCC 105', color: '#f7941d', titleX: 333, titleY: 24, legX: 103, legY: 14, shape: 'circle', size: 8.5,
    series: [
      ['22 MPa 0,35 mm/s', LG, 'full', mcc22],
      ['56 MPa 0,35 mm/s', G1, 'left', mcc56],
      ['116 MPa 0,35 mm/s', G2, 'full', mcc116],
      ['330 MPa 0,35 mm/s', BK, 'right', mcc330],
      ['568 MPa 0,35 mm/s', BK, 'full', mcc568],
      ['224 MPa 0,01 mm/s', LB, 'bottom', mcc224],
      ['517 MPa 100 mm/s', BL, 'stripe', mcc517]
    ] },
  { id: 'pvp', title: 'PVP 12', color: '#6cbf4a', titleX: 168, titleY: 23, legX: 342, legY: 8, shape: 'star', size: 11,
    series: [
      ['27 MPa 0,35 mm/s', '#d0d0d0', 'full', pvp27],
      ['51 MPa 0,35 mm/s', '#a0a0a0', 'left', pvp51],
      ['130 MPa 0,35 mm/s', '#8a8a8a', 'full', pvp130],
      ['312 MPa 0,35 mm/s', BK, 'right', pvp312],
      ['540 MPa 0,35 mm/s', '#444444', 'full', pvp540],
      ['188 MPa 0,01 mm/s', LB, 'open', pvp188],
      ['572 MPa 100 mm/s', BL, 'full', pvp572]
    ] },
  { id: 'xpvp', title: 'XPVP M', color: '#7b4fa2', titleX: 333, titleY: 49, legX: 104, legY: 34, shape: 'square', size: 8,
    series: [
      ['13 MPa 0,35 mm/s', LG, 'full', xp13],
      ['51 MPa 0,35 mm/s', G1, 'left', xp51],
      ['263 MPa 0,35 mm/s', G2, 'full', xp263],
      ['372 MPa 0,35 mm/s', BK, 'right', xp372],
      ['569 MPa 0,35 mm/s', BK, 'full', xp569],
      ['235 MPa 0,01 mm/s', LB, 'stripe', xp235],
      ['510 MPa 100 mm/s', BL, 'stripe', xp510]
    ] }
];

// titles, legend inside the plot, x axis title and the axis break
const decor = {
  id: 'decor',
  afterDraw(chart, args, o) {
    const { ctx, chartArea: a, scales } = chart;
    ctx.save();
    const xb = (scales.x1.right + scales.x2.left) / 2, yb = a.bottom;
    ctx.fillStyle = '#fff';
    ctx.fillRect(xb - 3, yb - 2, 6, 5);
    ctx.strokeStyle = '#000';
    ctx.lineWidth = 1.5;
    [-4, 4].forEach(d => {
      ctx.beginPath();
      ctx.moveTo(xb + d - 3.5, yb + 11);
      ctx.lineTo(xb + d + 3.5, yb - 10);
      ctx.stroke();
    });

    ctx.textBaseline = 'middle';
    ctx.textAlign = 'left';
    ctx.font = '31px ' + FONT;
    ctx.fillStyle = o.color;
    ctx.fillText(o.title, o.titleX, o.titleY);

    ctx.fillStyle = '#000';
    ctx.font = '28px ' + FONT;
    ctx.textAlign = 'center';
    ctx.fillText(xTitle, (a.left + a.right) / 2, 382);

    ctx.font = '21px ' + FONT;
    ctx.textAlign = 'left';
    o.items.forEach((it, i) => {
      const y = o.legY + i * 26;
      ctx.drawImage(it.img, Math.round(o.legX - it.img.width / 2), Math.round(y - it.img.height / 2));
      ctx.fillText(it.label, o.legX + 31, y + 1);
    });
    ctx.restore();
  }
};

function axisX(range, ticks, pxPerMm) {
  return {
    type: 'linear',
    position: 'bottom',
    stack: 'x',
    stackWeight: (range[1] - range[0]) * pxPerMm,
    min: range[0],
    max: range[1],
    afterBuildTicks: s => { s.ticks = ticks.map(v => ({ value: v })); },
    afterFit: s => { s.height = 74; },
    grid: { display: true, drawOnChartArea: false, drawTicks: true, tickLength: 10, tickWidth: 1.5, tickColor: '#000' },
    border: { display: true, color: '#000', width: 1.5 },
    ticks: { color: '#000', font: { family: FONT, size: 24 }, padding: 7, maxRotation: 0, autoSkip: false,
      callback: v => String(v) }
  };
}

panels.forEach(p => {
  const items = [];
  const datasets = [];
  p.series.forEach(([label, color, mode, pts], i) => {
    const img = marker(p.shape, p.size, color, mode);
    items.push({ label, img });
    const base = { label, pointStyle: img, radius: 4, showLine: false, clip: false, order: 20 - i };
    datasets.push({ ...base, xAxisID: 'x1', data: pts.filter(q => q[0] < xSplit) });
    datasets.push({ ...base, xAxisID: 'x2', data: pts.filter(q => q[0] >= xSplit) });
  });

  new Chart(document.getElementById(p.id), {
    type: 'scatter',
    data: { datasets },
    options: {
      responsive: false,
      animation: false,
      events: [],
      layout: { padding: { left: 0, top: 12, right: 2, bottom: 0 } },
      plugins: {
        legend: { display: false },
        tooltip: { enabled: false },
        decor: { title: p.title, color: p.color, titleX: p.titleX, titleY: p.titleY, legX: p.legX, legY: p.legY, items }
      },
      scales: {
        x1: axisX(xLeft, xTicksLeft, 41),
        x2: axisX(xRight, xTicksRight, 219),
        y: {
          min: 0,
          max: 0.55,
          afterBuildTicks: s => { s.ticks = yTicks.map(v => ({ value: v })); },
          afterFit: s => { s.width = 93; },
          grid: { display: true, drawOnChartArea: false, drawTicks: true, tickLength: 8, tickWidth: 1.5, tickColor: '#000' },
          border: { display: true, color: '#000', width: 1.5 },
          ticks: { color: '#000', font: { family: FONT, size: 24 }, padding: 3,
            callback: v => v.toFixed(1).replace('.', ',') },
          title: { display: true, text: yTitle, color: '#000', font: { family: FONT, size: 28 }, padding: { top: 5, bottom: 0 } }
        }
      }
    },
    plugins: [decor]
  });
});
</script>
</body>
</html>
